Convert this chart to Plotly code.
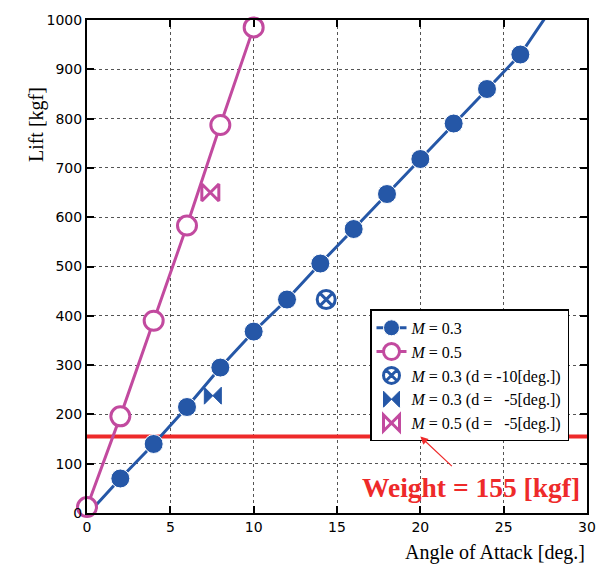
import plotly.graph_objects as go

# Data
aoa_m03 = [0, 2, 4, 6, 8, 10, 12, 14, 16, 18, 20, 22, 24, 26, 28]
lift_m03 = [-4, 70, 140, 215, 295, 368, 433, 506, 576, 647, 718, 790, 860, 930, 1030]
aoa_m05 = [0, 2, 4, 6, 8, 10]
lift_m05 = [12, 196, 390, 583, 787, 985]
aoa_m03_d10 = [14.35]
lift_m03_d10 = [433]
aoa_m03_d5 = [7.55]
lift_m03_d5 = [238]
aoa_m05_d5 = [7.4]
lift_m05_d5 = [650]
weight = 155
x_ticks = [0, 5, 10, 15, 20, 25, 30]
y_ticks = [0, 100, 200, 300, 400, 500, 600, 700, 800, 900, 1000]

BLUE = "#2557a7"
PINK = "#c24a9f"
RED = "#ee2a2a"
SERIF = "Liberation Serif, Times New Roman, serif"
SANS = "DejaVu Sans, sans-serif"

fig = go.Figure()

# weight line
fig.add_trace(go.Scatter(x=[0, 30], y=[weight, weight], mode="lines",
                         line=dict(color=RED, width=4), showlegend=False,
                         hoverinfo="skip"))

sizes03 = [19] * (len(aoa_m03) - 1) + [0]
fig.add_trace(go.Scatter(x=aoa_m03, y=lift_m03, mode="lines+markers",
                         name="<i>M</i> = 0.3", cliponaxis=False,
                         line=dict(color=BLUE, width=3),
                         marker=dict(color=BLUE, size=sizes03, symbol="circle", opacity=1)))
fig.add_trace(go.Scatter(x=aoa_m05, y=lift_m05, mode="lines+markers",
                         name="<i>M</i> = 0.5", cliponaxis=False,
                         line=dict(color=PINK, width=3),
                         marker=dict(color="white", size=19, symbol="circle", opacity=1,
                                     line=dict(color=PINK, width=3))))
fig.add_trace(go.Scatter(x=aoa_m03_d10, y=lift_m03_d10, mode="markers",
                         name="<i>M</i> = 0.3 (d = -10[deg.])",
                         marker=dict(color=BLUE, size=18, symbol="circle-x-open", opacity=1,
                                     line=dict(color=BLUE, width=3))))
fig.add_trace(go.Scatter(x=aoa_m03_d5, y=lift_m03_d5, mode="markers",
                         name="<i>M</i> = 0.3 (d = &nbsp;&nbsp;-5[deg.])",
                         marker=dict(color=BLUE, size=17, symbol="bowtie", opacity=1,
                                     line=dict(color=BLUE, width=1))))
fig.add_trace(go.Scatter(x=aoa_m05_d5, y=lift_m05_d5, mode="markers",
                         name="<i>M</i> = 0.5 (d = &nbsp;&nbsp;-5[deg.])",
                         marker=dict(color=PINK, size=17, symbol="bowtie-open", opacity=1,
                                     line=dict(color=PINK, width=3))))

axis_common = dict(showline=True, linecolor="black", linewidth=2, mirror="ticks",
                   ticks="inside", ticklen=7, tickwidth=2, tickcolor="black",
                   showgrid=True, gridcolor="#555", griddash="dot", gridwidth=1,
                   zeroline=False, tickfont=dict(family=SANS, size=14, color="black"))

fig.update_xaxes(range=[0, 30], tickvals=x_ticks, **axis_common)
fig.update_yaxes(range=[0, 1000], tickvals=y_ticks, **axis_common)

fig.add_annotation(x=20, y=weight, ax=33, ay=31, text="", showarrow=True,
                   arrowhead=2, arrowsize=1.3, arrowwidth=1.2, arrowcolor=RED,
                   xref="x", yref="y")
fig.add_annotation(x=0.99, y=0.052, xref="paper", yref="paper", xanchor="right",
                   yanchor="middle", text="<b>Weight = 155 [kgf]</b>", showarrow=False,
                   font=dict(family=SERIF, size=27.5, color=RED))
fig.add_annotation(x=-0.128, y=0.868, xref="paper", yref="paper", textangle=-90,
                   text="Lift [kgf]", showarrow=False,
                   font=dict(family=SERIF, size=20, color="black"))
fig.add_annotation(x=1.0, y=-0.08, xref="paper", yref="paper", xanchor="right",
                   yanchor="middle", text="Angle of Attack [deg.]", showarrow=False,
                   font=dict(family=SERIF, size=20, color="black"))

fig.update_layout(
    width=611, height=566,
    margin=dict(l=87, r=24, t=14, b=53),
    paper_bgcolor="white", plot_bgcolor="white",
    legend=dict(x=0.566, y=0.413, xanchor="left", yanchor="top",
                bgcolor="white", bordercolor="black", borderwidth=1.5,
                font=dict(family=SERIF, size=16, color="black"),
                tracegroupgap=0),
    showlegend=True,
)

fig.write_html("out.html", config={"displayModeBar": False})
with open("out.html", encoding="utf-8") as f:
    html = f.read()
html = html.replace("<head>", "<head><style>html,body{margin:0;padding:0;overflow:hidden}</style>", 1)
with open("out.html", "w", encoding="utf-8") as f:
    f.write(html)
